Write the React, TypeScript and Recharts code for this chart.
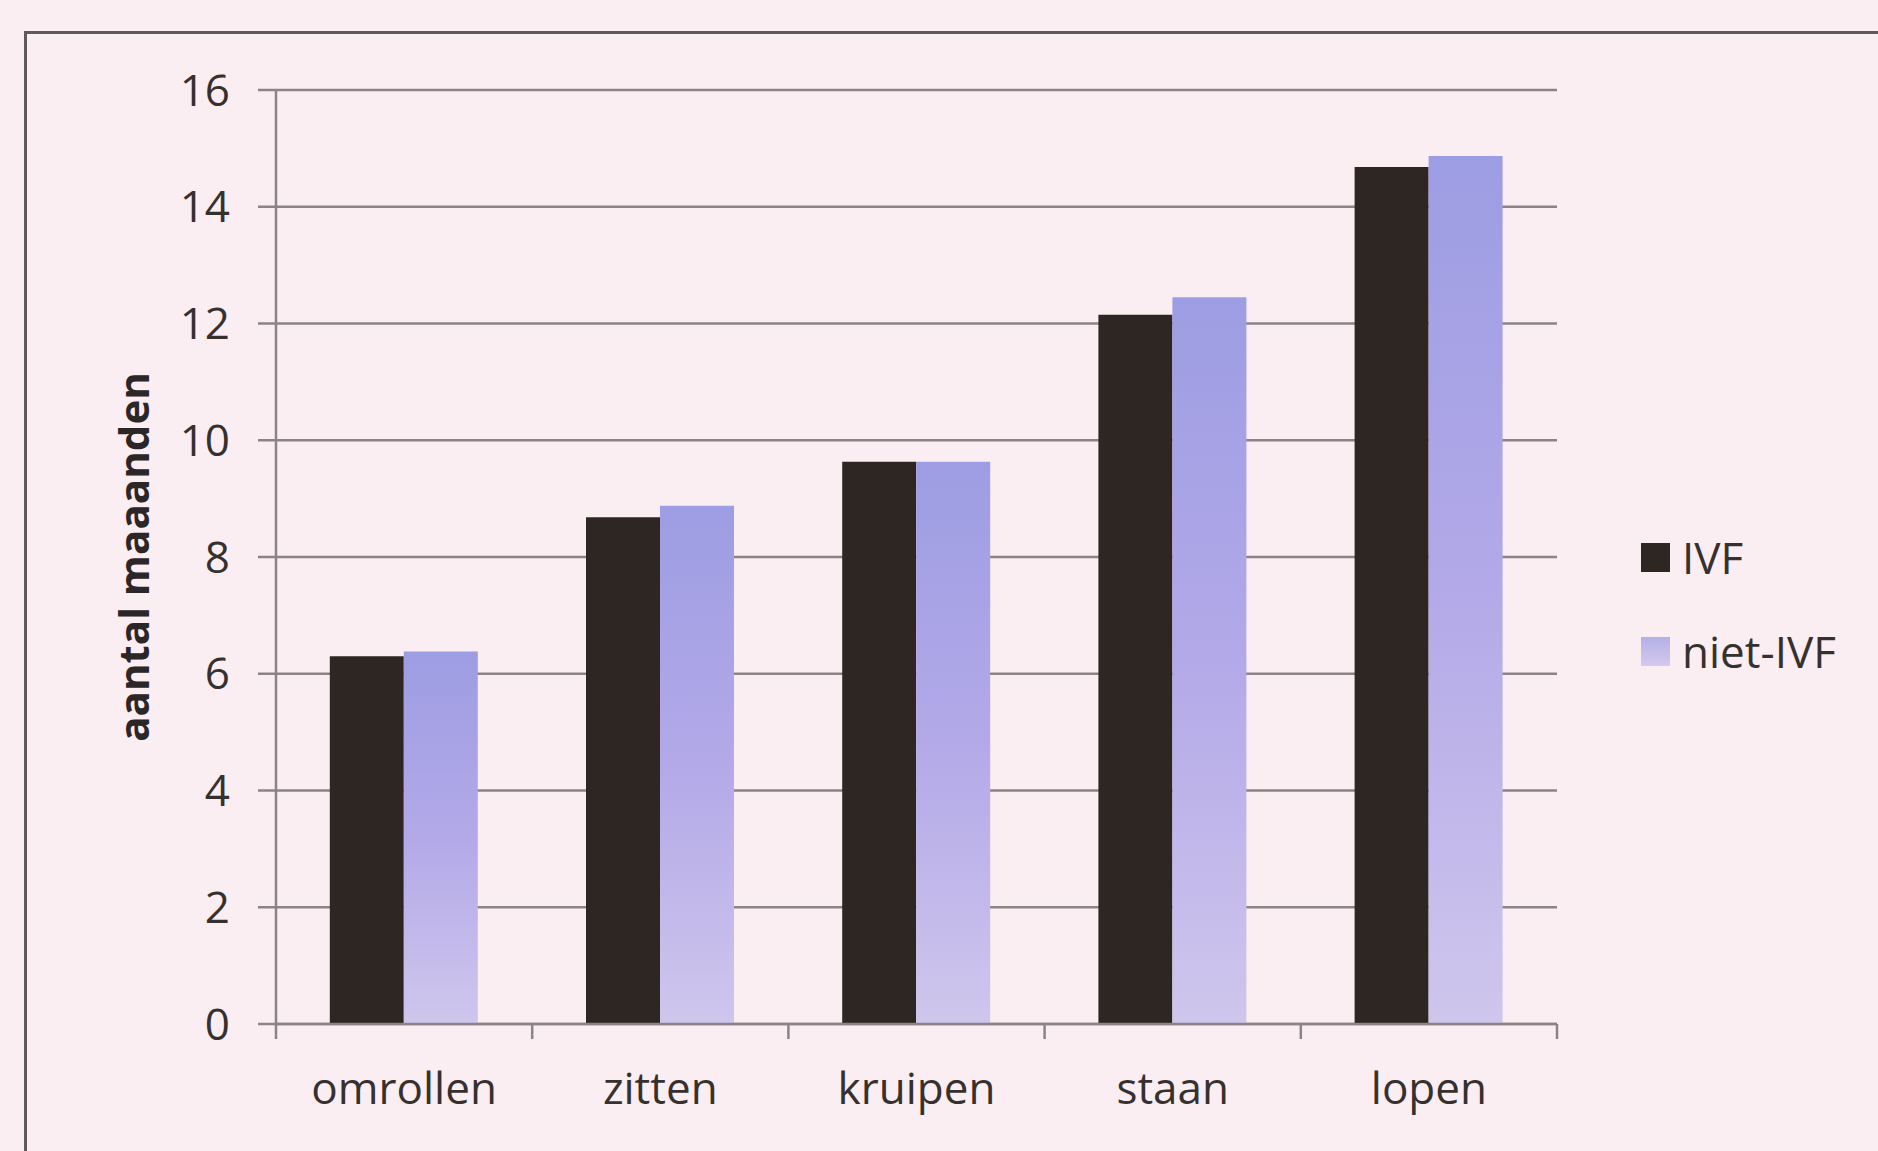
import React from 'react';
import { BarChart, Bar, XAxis, YAxis, CartesianGrid, Legend } from 'recharts';

const categories = ['omrollen', 'zitten', 'kruipen', 'staan', 'lopen'];
const ivfValues = [6.3, 8.68, 9.63, 12.15, 14.68];
const nietIvfValues = [6.38, 8.88, 9.63, 12.45, 14.87];
const yTicks = [0, 2, 4, 6, 8, 10, 12, 14, 16];
const seriesNames = { ivf: 'IVF', niet: 'niet-IVF' };

const data = categories.map((name, i) => ({ name, ivf: ivfValues[i], niet: nietIvfValues[i] }));

const FONT = '"Open Sans", sans-serif';
const INK = '#36312f';
const GRID = '#8b8387';

const swatchStyle: Record<string, React.CSSProperties> = {
  ivf: { background: '#2e2623' },
  niet: { background: 'linear-gradient(#b3b0e6, #d4caee)' },
};

const renderLegend = (props: any) => {
  const payload = props.payload || [];
  return (
    <div style={{ fontFamily: FONT }}>
      {payload.map((p: any) => (
        <div key={p.dataKey} style={{ height: 94, display: 'flex', alignItems: 'center' }}>
          <div style={{ width: 29, height: 29, ...swatchStyle[p.dataKey] }} />
          <span style={{ marginLeft: 12, fontSize: 44, color: INK, lineHeight: 1 }}>{p.value}</span>
        </div>
      ))}
    </div>
  );
};

// category label plus tick marks on the band edges (Excel style)
const CategoryTick = (props: any) => {
  const { x, y, payload, index, visibleTicksCount, width } = props;
  const half = payload && payload.offset ? payload.offset : width / visibleTicksCount / 2;
  const isLast = index === visibleTicksCount - 1;
  return (
    <g>
      <line x1={x - half} x2={x - half} y1={y} y2={y + 15} stroke={GRID} strokeWidth={2.5} />
      {isLast && <line x1={x + half} x2={x + half} y1={y} y2={y + 15} stroke={GRID} strokeWidth={2.5} />}
      <text x={x} y={y + 49} dy="0.71em" textAnchor="middle" style={{ fontFamily: FONT, fontSize: 44, fill: INK }}>
        {payload.value}
      </text>
    </g>
  );
};

const YTitle = (props: any) => {
  const vb = props.viewBox || {};
  const cx = vb.x + 132;
  const cy = vb.y + vb.height / 2;
  return (
    <text
      x={cx}
      y={cy}
      transform={`rotate(-90 ${cx} ${cy})`}
      textAnchor="middle"
      dominantBaseline="central"
      style={{ fontFamily: FONT, fontSize: 42, fontWeight: 700, fill: '#2b2628' }}
    >
      aantal maaanden
    </text>
  );
};

export default function App() {
  return (
    <div style={{ position: 'absolute', left: 0, top: 0, width: 1878, height: 1151, background: '#fbeef3', overflow: 'hidden' }}>
      <div style={{ position: 'absolute', left: 24, top: 31, right: -10, bottom: -10, borderTop: '3px solid #5f585c', borderLeft: '3px solid #5f585c' }} />
      <BarChart
        width={1878}
        height={1151}
        data={data}
        margin={{ top: 90, right: 321, bottom: 0, left: 0 }}
        barGap={0}
        barCategoryGap="21%"
        style={{ position: 'absolute', left: 0, top: 0 }}
      >
        <defs>
          <linearGradient id="nietGrad" x1="0" y1="0" x2="0" y2="1">
            <stop offset="0%" stopColor="#9d9de3" />
            <stop offset="50%" stopColor="#b3a9e8" />
            <stop offset="100%" stopColor="#cfc6ed" />
          </linearGradient>
        </defs>
        <CartesianGrid vertical={false} stroke={GRID} strokeWidth={2.5} />
        <XAxis
          dataKey="name"
          height={127}
          interval={0}
          axisLine={{ stroke: GRID, strokeWidth: 2.5 }}
          tickLine={false}
          tickSize={0}
          tickMargin={0}
          tick={<CategoryTick />}
        />
        <YAxis
          width={276}
          domain={[0, 16]}
          ticks={yTicks}
          interval={0}
          tickSize={18}
          tickMargin={28}
          axisLine={{ stroke: GRID, strokeWidth: 2.5 }}
          tickLine={{ stroke: GRID, strokeWidth: 2.5 }}
          tick={{ fontFamily: FONT, fontSize: 44, fill: INK }}
          label={{ content: <YTitle /> }}
        />
        <Bar dataKey="ivf" name={seriesNames.ivf} fill="#2e2623" isAnimationActive={false} />
        <Bar dataKey="niet" name={seriesNames.niet} fill="url(#nietGrad)" isAnimationActive={false} />
        <Legend
          layout="vertical"
          verticalAlign="middle"
          align="center"
          content={renderLegend}
          wrapperStyle={{ position: 'absolute', left: 1641, top: 510, width: 230 }}
        />
      </BarChart>
    </div>
  );
}
